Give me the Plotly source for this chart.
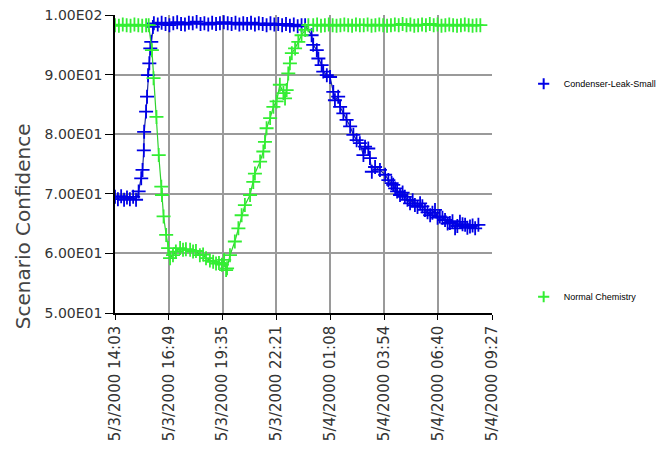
import pandas as pd
import plotly.graph_objects as go

START = "2000-05-03 14:03"

TICK_LABELS = ["5/3/2000 14:03", "5/3/2000 16:49", "5/3/2000 19:35", "5/3/2000 22:21",
               "5/4/2000 01:08", "5/4/2000 03:54", "5/4/2000 06:40", "5/4/2000 09:27"]
Y_TICKS = [50, 60, 70, 80, 90, 100]
Y_LABELS = ["5.00E01", "6.00E01", "7.00E01", "8.00E01", "9.00E01", "1.00E02"]

# minutes after 5/3/2000 14:03
leak_min = [0, 9, 19, 28, 37, 46, 56, 65, 73, 81, 85, 89, 90, 96, 99, 102, 106, 109, 112, 117,
            120, 132, 144, 156, 168, 180, 192, 204, 216, 228, 240, 252, 264, 276, 288, 300, 312,
            324, 336, 348, 360, 372, 384, 396, 408, 420, 432, 444, 456, 468, 480, 492, 504, 516,
            528, 540, 552, 564, 576, 587,
            607, 612, 623, 628, 638, 643, 654, 664, 674, 679, 689, 695, 705, 715, 726, 736, 746,
            756, 767, 772, 782, 787, 793, 803, 818, 834, 844, 854, 859, 865, 871, 880, 888, 895,
            903, 911, 919, 926, 934, 942, 949, 957, 965, 973, 980, 988, 996, 1003, 1011, 1019,
            1027, 1034, 1042, 1050, 1057, 1065, 1073, 1081, 1088, 1096, 1104, 1112, 1122]
leak_val = [69.5, 69.1, 69.6, 69.0, 69.4, 69.1, 69.5, 69.0, 70.4, 72.6, 74.0, 77.3, 80.4, 83.8,
            86.3, 89.9, 91.9, 94.4, 95.5, 98.0,
            98.6, 98.4, 98.7, 98.5, 98.3, 98.6, 98.8, 98.5, 98.4, 98.7, 98.6, 98.9, 98.5, 98.6,
            98.4, 98.7, 98.5, 98.6, 98.8, 98.6, 98.5, 98.7, 98.4, 98.6, 98.5, 98.7, 98.4, 98.6,
            98.5, 98.3, 98.6, 98.4, 98.5, 98.3, 98.5, 98.2, 98.4, 98.1, 98.3, 98.3,
            96.6, 95.0, 94.1, 92.7, 91.6, 90.5, 89.9, 89.6, 87.1, 85.7, 86.3, 84.6, 83.5, 82.4,
            81.3, 79.9, 79.0, 78.5, 76.5, 77.9, 77.6, 76.0, 73.7, 74.5, 74.0, 73.2, 72.3, 71.8,
            71.5, 70.9, 70.4, 69.8, 70.2, 69.5, 69.0, 68.4, 68.9, 68.1, 67.8, 68.4, 67.9, 67.3,
            66.9, 66.4, 66.8, 67.3, 66.0, 66.2, 66.0, 65.6, 65.0, 65.1, 65.4, 64.2, 64.6, 65.3,
            64.9, 64.8, 64.3, 64.5, 64.7, 64.2, 64.8]

chem_min = [0, 12, 24, 36, 48, 60, 72, 84, 96, 104, 114, 119, 128, 135, 143, 145, 150, 158, 164,
            170, 179, 188, 201, 210, 219, 232, 241, 250, 262, 272, 281, 293, 303, 312, 321, 330,
            337, 343, 346, 355, 370, 381, 391, 401, 417, 427, 432, 448, 458, 463, 468, 479, 489,
            499, 509, 520, 525, 530, 535, 540, 546, 556, 566, 576, 587, 597,
            612, 624, 636, 648, 660, 672, 684, 696, 708, 720, 732, 744, 756, 768, 780, 792, 804,
            816, 828, 840, 852, 864, 876, 888, 900, 912, 924, 936, 948, 960, 972, 984, 996, 1008,
            1020, 1032, 1044, 1056, 1068, 1080, 1092, 1104, 1116, 1128]
chem_val = [98.3, 98.2, 98.4, 98.3, 98.2, 98.4, 98.3, 98.2, 98.3, 98.3, 94.1, 89.4, 82.9, 76.5,
            71.2, 69.8, 66.2, 63.1, 60.9, 59.2, 59.7, 60.3, 60.9, 60.6, 60.7, 60.6, 60.3, 60.4,
            59.7, 59.8, 59.2, 58.8, 58.6, 58.3, 58.4, 58.1, 58.9, 57.2, 57.5, 59.7, 62.0, 64.2,
            66.4, 68.1, 69.8, 72.0, 73.4, 75.4, 77.1, 78.7, 81.0, 82.7, 84.6, 85.5, 88.3, 86.9,
            86.0, 87.4, 90.2, 91.9, 93.6, 94.4, 95.5, 96.6, 97.5, 98.3,
            98.3, 98.4, 98.2, 98.3, 98.4, 98.3, 98.2, 98.3, 98.4, 98.3, 98.2, 98.4, 98.3, 98.3,
            98.4, 98.2, 98.3, 98.4, 98.3, 98.2, 98.3, 98.4, 98.3, 98.5, 98.3, 98.4, 98.2, 98.3,
            98.4, 98.3, 98.5, 98.3, 98.4, 98.2, 98.3, 98.4, 98.3, 98.2, 98.3, 98.4, 98.3, 98.2,
            98.3, 98.3]

start = pd.Timestamp(START)
leak_x = start + pd.to_timedelta(leak_min, unit="min")
chem_x = start + pd.to_timedelta(chem_min, unit="min")
tick_vals = pd.to_datetime(TICK_LABELS, format="%m/%d/%Y %H:%M")

BLUE_LINE, BLUE_MK = "#1c2a9c", "#0000e6"
GREEN_LINE, GREEN_MK = "#2fd12f", "#33ee33"

fig = go.Figure()
fig.add_trace(go.Scatter(x=leak_x, y=leak_val, mode="lines+markers", showlegend=False,
                         line=dict(color=BLUE_LINE, width=1.2),
                         marker=dict(symbol="cross-thin", size=10, line=dict(color=BLUE_MK, width=1.8))))
fig.add_trace(go.Scatter(x=chem_x, y=chem_val, mode="lines+markers", showlegend=False,
                         line=dict(color=GREEN_LINE, width=1.2),
                         marker=dict(symbol="cross-thin", size=10, line=dict(color=GREEN_MK, width=1.8))))
# legend entries
fig.add_trace(go.Scatter(x=[None], y=[None], mode="markers", name="Condenser-Leak-Small",
                         legendgroup="a",
                         marker=dict(symbol="cross-thin", size=8, line=dict(color=BLUE_MK, width=2))))
fig.add_trace(go.Scatter(x=[None], y=[None], mode="markers", name="Normal Chemistry",
                         legendgroup="b",
                         marker=dict(symbol="cross-thin", size=8, line=dict(color=GREEN_MK, width=2))))

fig.update_layout(
    width=669, height=468,
    margin=dict(l=115, r=177, t=15, b=155, autoexpand=False),
    paper_bgcolor="white", plot_bgcolor="white",
    font=dict(family="DejaVu Sans", color="#333333"),
    legend=dict(x=1.084, xanchor="left", y=0.818, yanchor="top", tracegroupgap=194,
                font=dict(family="Liberation Sans", size=9, color="black"),
                itemwidth=30, bgcolor="rgba(0,0,0,0)"),
    xaxis=dict(type="date", range=[tick_vals[0], tick_vals[-1]], tickvals=tick_vals,
               ticktext=TICK_LABELS, tickangle=-90, tickfont=dict(size=15, color="#333333"),
               showgrid=True, gridcolor="#9a9a9a", gridwidth=1.5,
               showline=True, linecolor="black", linewidth=1.5,
               ticks="outside", ticklen=5, tickcolor="black", zeroline=False),
    yaxis=dict(range=[50, 100], tickvals=Y_TICKS, ticktext=Y_LABELS,
               tickfont=dict(size=14, color="#333333"),
               showgrid=True, gridcolor="#9a9a9a", gridwidth=1.5,
               showline=True, linecolor="black", linewidth=1.5,
               ticks="outside", ticklen=8, tickcolor="black", zeroline=False),
    annotations=[dict(text="Scenario Confidence", textangle=-90, xref="paper", yref="paper",
                      x=-0.245, y=0.29, xanchor="center", yanchor="middle", showarrow=False,
                      font=dict(size=20, color="#444444"))],
)

fig.write_html("out.html")
